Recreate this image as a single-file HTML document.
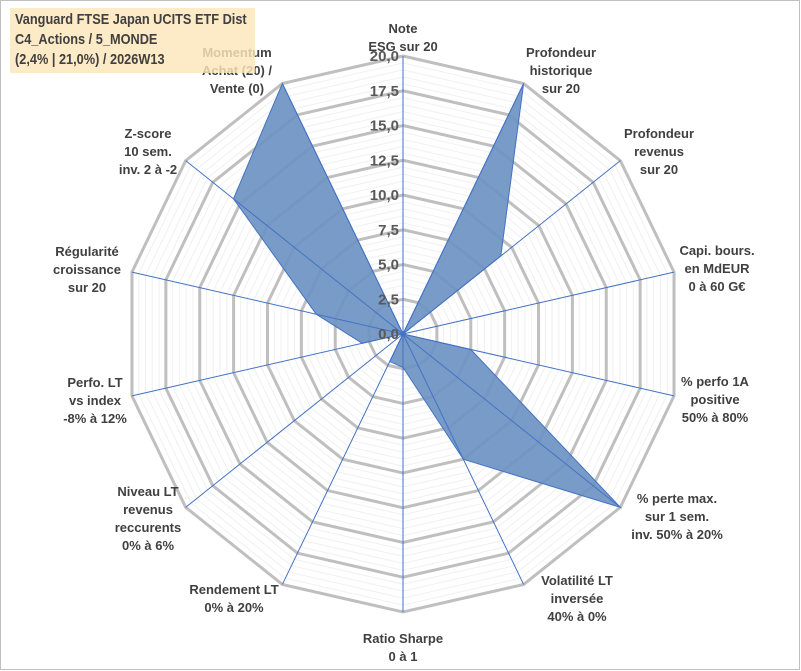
<!DOCTYPE html>
<html><head><meta charset="utf-8"><style>
body{margin:0;background:#fff;}
#wrap{position:relative;width:801px;height:671px;overflow:hidden;font-family:"Liberation Sans",sans-serif;}
#frame{position:absolute;left:0;top:0;width:798px;height:668px;border:1px solid #bfbfbf;}
#title{position:absolute;left:10px;top:8px;width:245px;height:65px;background:rgba(253,229,185,0.82);color:#404040;font-weight:bold;font-size:15px;line-height:20px;padding:2px 0 0 5px;box-sizing:border-box;white-space:nowrap;}
#title span{display:inline-block;transform:scaleX(0.85);transform-origin:0 0;}
</style></head><body>
<div id="wrap">
<div id="frame"></div>
<svg id="chart" width="801" height="671" style="position:absolute;left:0;top:0"></svg>
<div id="title"><span>Vanguard FTSE Japan UCITS ETF Dist<br>C4_Actions / 5_MONDE<br>(2,4% | 21,0%) / 2026W13</span></div>
</div>
<script>
const categories=[["Note","ESG sur 20"],["Profondeur","historique","sur 20"],["Profondeur","revenus","sur 20"],["Capi. bours.","en MdEUR","0 à 60 G€"],["% perfo 1A","positive","50% à 80%"],["% perte max.","sur 1 sem.","inv. 50% à 20%"],["Volatilité LT","inversée","40% à 0%"],["Ratio Sharpe","0 à 1"],["Rendement LT","0% à 20%"],["Niveau LT","revenus","reccurents","0% à 6%"],["Perfo. LT","vs index","-8% à 12%"],["Régularité","croissance","sur 20"],["Z-score","10 sem.","inv. 2 à -2"],["Momentum","Achat (20) /","Vente (0)"]];
const values=[0,20,9,0,5,20,10,2.4,2.2,0,3,6.4,15.6,20];
const tickLabels=["0,0","2,5","5,0","7,5","10,0","12,5","15,0","17,5","20,0"];
const maxVal=20;
const labelPos=[[403,28],[561,52],[659,133],[717,250],[715,381],[677,498],[577,580],[403,638],[234,589],[148,491],[95,382],[87,251],[148,133],[237,52]];
const cx=403,cy=334,R=278,N=categories.length;
const svg=document.getElementById('chart');
const NS='http://www.w3.org/2000/svg';
function ang(i){return i*2*Math.PI/N;}
function pt(i,v){const r=v/maxVal*R;return [cx+r*Math.sin(ang(i)),cy-r*Math.cos(ang(i))];}
function poly(v){let s=[];for(let i=0;i<N;i++){s.push(pt(i,v).join(','));}return s.join(' ');}
for(let k=1;k<=40;k++){const v=k*0.5;if(k%5===0)continue;
const p=document.createElementNS(NS,'polygon');p.setAttribute('points',poly(v));p.setAttribute('fill','none');p.setAttribute('stroke','#f0f0f0');p.setAttribute('stroke-width','1');


svg.appendChild(p);}
for(let k=1;k<tickLabels.length;k++){const v=k*2.5;
const p=document.createElementNS(NS,'polygon');p.setAttribute('points',poly(v));p.setAttribute('fill','none');p.setAttribute('stroke','#bfbfbf');p.setAttribute('stroke-width','3');


svg.appendChild(p);}
const area=document.createElementNS(NS,'polygon');
let pts=[];for(let i=0;i<N;i++)pts.push(pt(i,values[i]).join(','));
area.setAttribute('points',pts.join(' '));area.setAttribute('fill','#6d93c2');area.setAttribute('fill-opacity','0.92');area.setAttribute('stroke','#4472c4');area.setAttribute('stroke-width','1');


svg.appendChild(area);
for(let i=0;i<N;i++){const e=pt(i,maxVal);const l=document.createElementNS(NS,'line');
l.setAttribute('x1',cx);l.setAttribute('y1',cy);l.setAttribute('x2',e[0]);l.setAttribute('y2',e[1]);l.setAttribute('stroke','#4472c4');l.setAttribute('stroke-width','1');


svg.appendChild(l);}
for(let k=0;k<tickLabels.length;k++){const y=cy-k*2.5/maxVal*R;const t=document.createElementNS(NS,'text');
t.setAttribute('x',cx-4);t.setAttribute('y',y+5);t.setAttribute('text-anchor','end');t.setAttribute('font-size','15');t.setAttribute('font-weight','bold');t.setAttribute('fill','#595959');t.setAttribute('font-family','Liberation Sans, sans-serif');
t.textContent=tickLabels[k];


svg.appendChild(t);}
for(let i=0;i<N;i++){const t=document.createElementNS(NS,'text');
t.setAttribute('text-anchor','middle');t.setAttribute('font-size','13');t.setAttribute('font-weight','bold');t.setAttribute('fill','#404040');t.setAttribute('font-family','Liberation Sans, sans-serif');
categories[i].forEach((s,j)=>{const ts=document.createElementNS(NS,'tspan');ts.setAttribute('x',labelPos[i][0]);ts.setAttribute('y',labelPos[i][1]+5+j*18);ts.textContent=s;t.appendChild(ts);});


svg.appendChild(t);}
</script>
</body></html>
